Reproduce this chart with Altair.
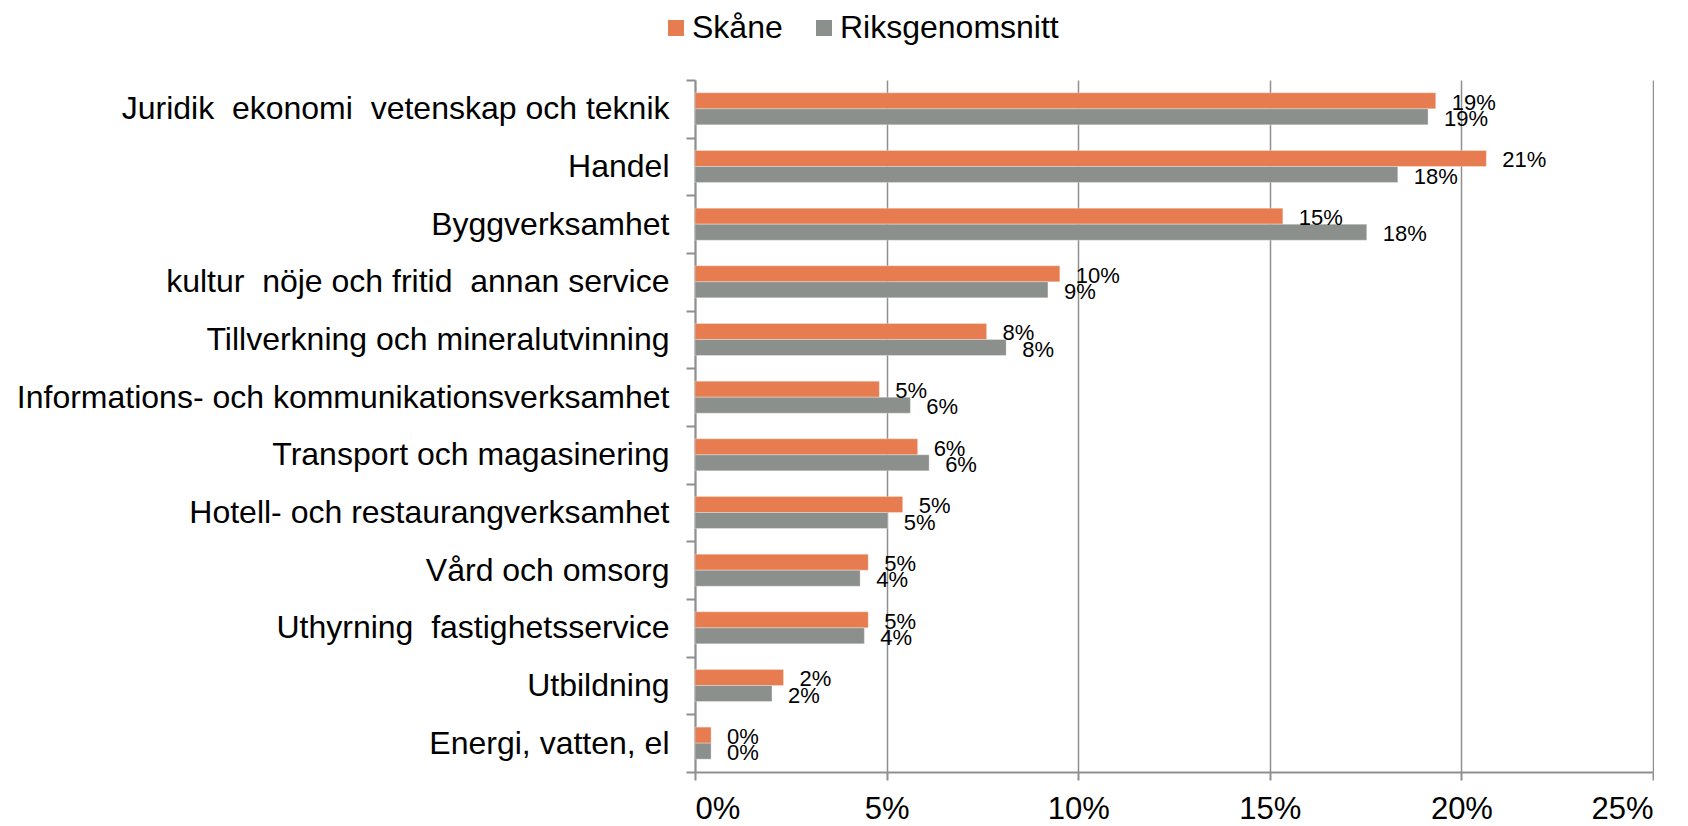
import altair as alt
import pandas as pd

categories = [
    "Juridik \u00a0ekonomi \u00a0vetenskap och teknik",
    "Handel",
    "Byggverksamhet",
    "kultur \u00a0nöje och fritid \u00a0annan service",
    "Tillverkning och mineralutvinning",
    "Informations- och kommunikationsverksamhet",
    "Transport och magasinering",
    "Hotell- och restaurangverksamhet",
    "Vård och omsorg",
    "Uthyrning \u00a0fastighetsservice",
    "Utbildning",
    "Energi, vatten, el",
]
skane = [19.33, 20.65, 15.34, 9.52, 7.61, 4.81, 5.81, 5.42, 4.52, 4.52, 2.31, 0.42]
riks = [19.13, 18.34, 17.53, 9.21, 8.12, 5.62, 6.11, 5.03, 4.31, 4.42, 2.01, 0.42]
series = ["Skåne", "Riksgenomsnitt"]
colors = ["#E67C4F", "#8B908D"]
x_ticks = [0, 0.05, 0.10, 0.15, 0.20, 0.25]

rows = []
for i, c in enumerate(categories):
    rows.append({"kategori": c, "serie": series[0], "andel": skane[i] / 100})
    rows.append({"kategori": c, "serie": series[1], "andel": riks[i] / 100})
df = pd.DataFrame(rows)

FONT = "Liberation Sans"
GRID = "#8f8f8f"

y = alt.Y(
    "kategori:N",
    sort=categories,
    scale=alt.Scale(paddingInner=0, paddingOuter=0),
    axis=alt.Axis(
        title=None,
        labelFontSize=32,
        labelFont=FONT,
        labelColor="black",
        labelPadding=17,
        labelLimit=0,
        tickSize=9,
        tickColor=GRID,
        tickWidth=2,
        tickBand="extent",
        domainColor=GRID,
        domainWidth=2,
        grid=False,
    ),
)
yoff = alt.YOffset(
    "serie:N", sort=series, scale=alt.Scale(paddingInner=0, paddingOuter=0.8)
)
x = alt.X(
    "andel:Q",
    scale=alt.Scale(domain=[0, 0.25], nice=False),
    axis=alt.Axis(
        values=x_ticks,
        format=".0%",
        title=None,
        labelFontSize=31,
        labelFont=FONT,
        labelColor="black",
        labelPadding=14,
        tickSize=8,
        tickColor=GRID,
        tickWidth=2,
        domainColor=GRID,
        domainWidth=2,
        grid=True,
        gridColor=GRID,
        gridWidth=1.5,
    ),
)
color = alt.Color(
    "serie:N",
    sort=series,
    scale=alt.Scale(domain=series, range=colors),
    legend=alt.Legend(
        orient="none",
        legendX=-35,
        legendY=-68,
        direction="horizontal",
        title=None,
        symbolType="square",
        symbolSize=256,
        symbolStrokeWidth=0,
        labelFontSize=32,
        labelFont=FONT,
        labelColor="black",
        labelOffset=0,
        labelLimit=0,
        columnPadding=25,
    ),
)

bars = alt.Chart(df).mark_bar(stroke="white", strokeWidth=0.6, strokeOpacity=0.5).encode(
    x=x, y=y, yOffset=yoff, color=color
)
labels = alt.Chart(df).mark_text(
    align="left", baseline="middle", dx=16, dy=2, fontSize=22, font=FONT, color="black"
).encode(
    x=alt.X("andel:Q"),
    y=alt.Y("kategori:N", sort=categories),
    yOffset=alt.YOffset("serie:N", sort=series),
    text=alt.Text("andel:Q", format=".0%"),
)

chart = (
    alt.layer(bars, labels)
    .properties(
        width=958,
        height=692,
        padding={"left": 8, "top": 4, "right": 0, "bottom": 3},
    )
    .configure_view(stroke=None)
)

chart.save("out.html", embed_options={"renderer": "svg", "actions": False})
